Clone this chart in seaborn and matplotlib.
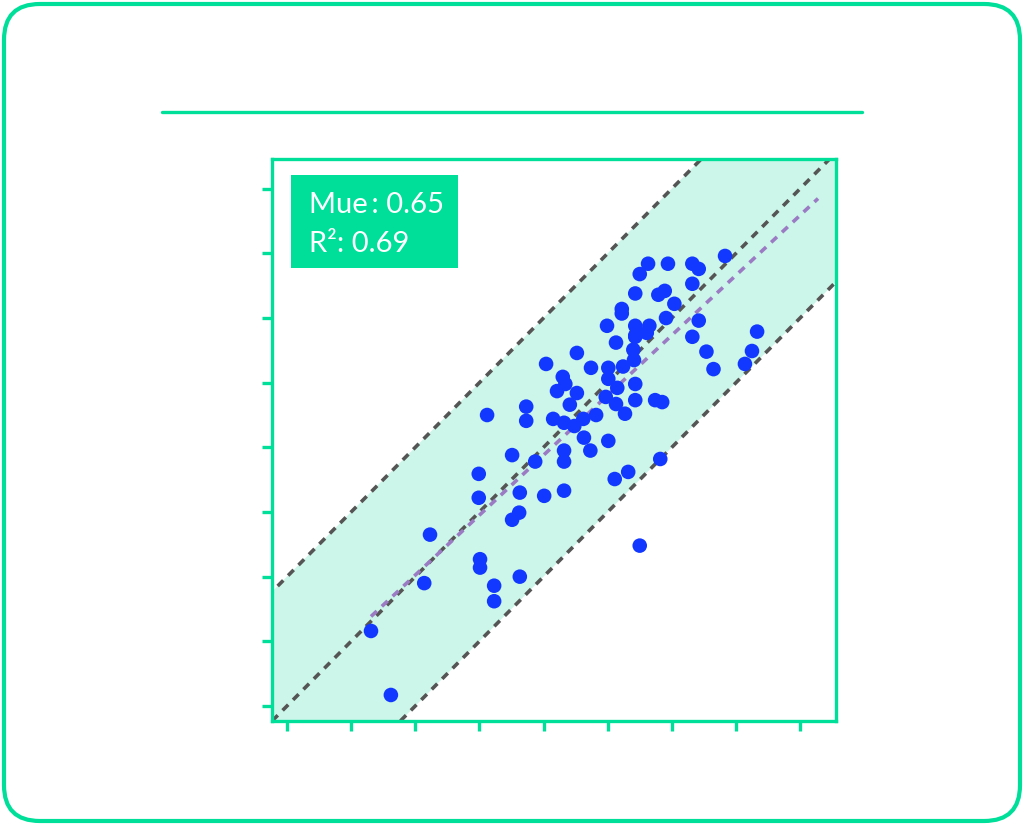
import numpy as np
import pandas as pd
import matplotlib
matplotlib.use("Agg")
import matplotlib.pyplot as plt
from matplotlib.patches import FancyBboxPatch, Rectangle
from matplotlib.lines import Line2D
import seaborn as sns

# experimental vs predicted values
experimental = [1.31, 1.62, 2.14, 2.23, 3.01, 3.01, 3.23, 3.23, 3.63, 3.51,
                3.62, 5.50, 3.12, 3.73, 3.73, 2.99, 2.99, 3.51, 3.87, 3.63,
                4.01, 4.32, 4.32, 4.32, 4.73, 4.63, 5.01, 5.32, 5.11, 5.82,
                4.15, 4.32, 4.48, 4.62, 4.82, 4.04, 4.52, 4.74, 4.30, 4.34,
                4.21, 4.52, 4.41, 5.01, 5.01, 5.24, 5.13, 5.43, 5.61, 5.40,
                5.41, 5.15, 5.43, 5.43, 4.97, 5.13, 5.27, 5.74, 5.85, 5.63,
                5.50, 5.94, 6.32, 6.42, 6.83, 6.32, 5.43, 5.79, 5.89, 6.04,
                5.22, 5.22, 5.91, 6.42, 4.99, 5.43, 5.65, 5.43, 6.32, 7.33,
                7.25, 7.14, 6.54, 6.65]
predicted = [1.16, 0.17, 1.90, 2.65, 2.27, 2.14, 1.86, 1.62, 2.00, 2.88,
             2.99, 2.48, 4.50, 4.63, 4.41, 3.59, 3.22, 3.88, 3.78, 3.30,
             3.25, 3.33, 3.95, 3.78, 3.95, 4.15, 4.10, 3.62, 3.51, 3.82,
             4.44, 4.38, 4.33, 4.44, 4.50, 5.29, 5.46, 5.23, 5.09, 4.98,
             4.87, 4.84, 4.66, 5.23, 5.06, 5.25, 5.62, 5.73, 5.77, 5.51,
             5.35, 4.92, 4.98, 4.73, 4.78, 4.67, 4.52, 4.73, 4.70, 6.84,
             6.68, 6.84, 6.84, 6.76, 6.96, 6.53, 6.38, 6.36, 6.42, 6.22,
             6.14, 6.07, 6.00, 5.96, 5.88, 5.88, 5.88, 5.71, 5.71, 5.79,
             5.49, 5.29, 5.48, 5.21]
ticks = [0, 1, 2, 3, 4, 5, 6, 7, 8]
tick_labels = ["0", "1", "2", "3", "4", "5", "6", "7", "8"]
band = 2.0
mue_text = "Mue\u2009: 0.65"
r2_text = "R\u00b2: 0.69"
title = "Predicted vs. Experimental Values"

green = "#00df9a"
df = pd.DataFrame({"experimental": experimental, "predicted": predicted})

sns.set_style("white")
plt.rcParams["font.family"] = ["Lato", "DejaVu Sans"]

fig = plt.figure(figsize=(10.24, 8.25), dpi=100)
ax = fig.add_axes([0.2656, 0.1261, 0.5508, 0.6812])

lo, hi = -0.234, 8.56
ylo, yhi = -0.232, 8.46
xs = np.array([lo - 3, hi + 3])
dash = (0, (2.2, 1.9))

# +/- band around identity
ax.fill_between(xs, xs - band, xs + band, color="#ccf6e9", lw=0, zorder=0)
for off in (-band, 0, band):
    ax.plot(xs, xs + off, ls=dash, color="#555555", lw=2.6, zorder=1)

# linear fit
k, b = np.polyfit(df["experimental"], df["predicted"], 1)
fx = np.array([df["experimental"].min(), df["experimental"].max() + 0.95])
ax.plot(fx, k * fx + b, ls=dash, color="#9b7cc4", lw=2.6, zorder=2)

sns.scatterplot(data=df, x="experimental", y="predicted", ax=ax, s=110,
                color="#1238ff", edgecolor="none", zorder=3)

ax.set_xlim(lo, hi)
ax.set_ylim(ylo, yhi)
ax.set_xticks(ticks)
ax.set_xticklabels(tick_labels)
ax.set_yticks(ticks)
ax.set_yticklabels(tick_labels)
ax.tick_params(bottom=True, left=True, direction="out", length=7, width=2.4,
               color=green, labelcolor="white", labelsize=16)
ax.set_xlabel("Experimental", color="white", fontsize=20)
ax.set_ylabel("Predicted", color="white", fontsize=20)
for sp in ax.spines.values():
    sp.set_color(green)
    sp.set_linewidth(2.4)

# stats box
ax.add_patch(Rectangle((0.0337, 0.806), 0.296, 0.1655, transform=ax.transAxes,
                       fc=green, ec="none", zorder=5))
ax.text(0.0656, 0.904, mue_text, transform=ax.transAxes, color="white",
        fontsize=21, va="baseline", ha="left", zorder=6)
ax.text(0.0656, 0.8345, r2_text, transform=ax.transAxes, color="white",
        fontsize=21, va="baseline", ha="left", zorder=6)

# title, rule and frame
fig.text(0.5, 1 - 65 / 825, title, color="white", fontsize=26,
         ha="center", va="center")
fig.add_artist(Line2D([162 / 1024, 862 / 1024], [1 - 112 / 825] * 2,
                      color=green, lw=2.4))
frame = FancyBboxPatch((4 / 1024, 4 / 825), 1016 / 1024, 817 / 825,
                       boxstyle="round,pad=0,rounding_size=0.035",
                       transform=fig.transFigure, fc="none", ec=green,
                       lw=3, mutation_aspect=1024 / 825)
fig.add_artist(frame)

fig.savefig("out.png", dpi=100)
